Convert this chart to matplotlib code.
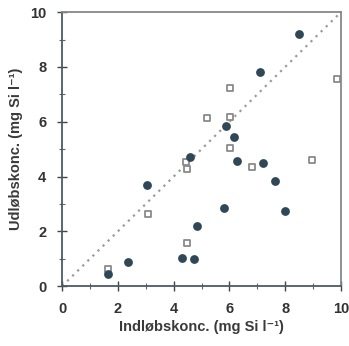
import numpy as np
import matplotlib.pyplot as plt
from matplotlib.ticker import MultipleLocator

# filled circles
circ_x = [1.65, 2.37, 3.04, 4.30, 4.73, 4.84, 4.59, 5.81, 6.27, 7.10, 6.16, 8.50, 7.20, 7.63, 7.99, 5.88]
circ_y = [0.44, 0.88, 3.69, 1.02, 0.99, 2.19, 4.71, 2.85, 4.56, 7.81, 5.44, 9.20, 4.49, 3.83, 2.74, 5.84]
# open squares
sq_x = [1.65, 3.08, 4.44, 4.48, 4.48, 5.20, 6.02, 6.02, 6.02, 6.81, 8.96, 9.86]
sq_y = [0.62, 2.63, 4.53, 4.27, 1.57, 6.13, 7.22, 6.16, 5.05, 4.34, 4.60, 7.55]

plt.rcParams['font.family'] = ['Liberation Sans', 'DejaVu Sans']
plt.rcParams['font.weight'] = 'bold'

fig = plt.figure(figsize=(3.49, 3.46), dpi=100)
ax = fig.add_axes([0.178, 0.173, 0.799, 0.792])

ax.plot([0, 10], [0, 10], ls=(0, (1, 2.2)), color="#9a9a9a", lw=1.6, zorder=1)
ax.scatter(sq_x, sq_y, marker="s", s=24, facecolor="white", edgecolor="#8a8a8a", lw=1.3, zorder=2)
ax.scatter(circ_x, circ_y, marker="o", s=40, color="#2f4756", lw=0, zorder=3)

ax.set_xlim(0, 10); ax.set_ylim(0, 10)
ax.xaxis.set_major_locator(MultipleLocator(2)); ax.xaxis.set_minor_locator(MultipleLocator(1))
ax.yaxis.set_major_locator(MultipleLocator(2)); ax.yaxis.set_minor_locator(MultipleLocator(1))
ax.tick_params(which="major", direction="inout", length=7, width=1, labelsize=10.5, colors="#444444", pad=8)
ax.tick_params(which="minor", direction="inout", length=4, width=0.8, colors="#666666")
for lab in ax.get_xticklabels() + ax.get_yticklabels():
    lab.set_color("#333333")

for s in ["left", "bottom"]:
    ax.spines[s].set_color("#4a5a66"); ax.spines[s].set_linewidth(1.3)
for s in ["top", "right"]:
    ax.spines[s].set_color("#888888"); ax.spines[s].set_linewidth(1.3)

ax.set_xlabel("Indløbskonc. (mg Si l⁻¹)", fontsize=10.5, fontweight="bold", color="#3a3a3a", labelpad=3)
ax.set_ylabel("Udløbskonc. (mg Si l⁻¹)", fontsize=10.5, fontweight="bold", color="#3a3a3a", labelpad=5)

fig.savefig("out.png", dpi=100)
